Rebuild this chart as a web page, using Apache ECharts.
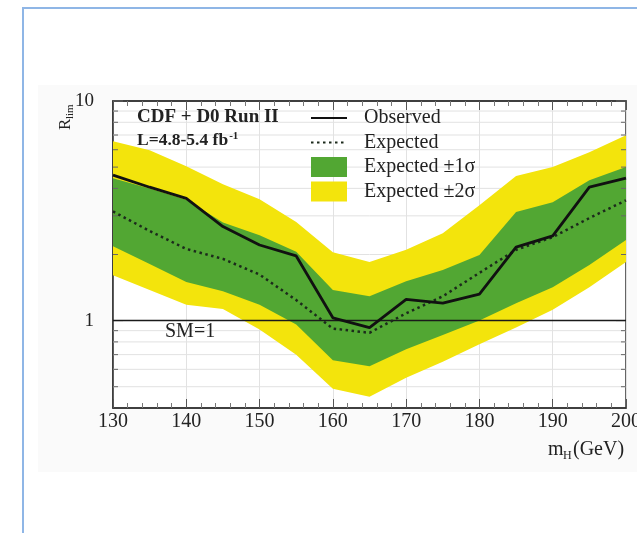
<!DOCTYPE html>
<html>
<head>
<meta charset="utf-8">
<script src="https://cdn.jsdelivr.net/npm/echarts@6/dist/echarts.min.js"></script>
<style>
  html, body { margin: 0; padding: 0; background: #fff; }
  #chart { width: 637px; height: 533px; }
</style>
</head>
<body>
<div id="chart"></div>
<script>
// Higgs mass points (GeV)
const mass = [130, 135, 140, 145, 150, 155, 160, 165, 170, 175, 180, 185, 190, 195, 200];
// Observed 95% CL limit ratio R_lim
const observed = [4.6, 4.05, 3.6, 2.68, 2.21, 1.97, 1.03, 0.93, 1.25, 1.2, 1.32, 2.16, 2.43, 4.05, 4.45];
// Median expected limit
const expected = [3.14, 2.56, 2.12, 1.91, 1.62, 1.24, 0.92, 0.88, 1.08, 1.29, 1.65, 2.10, 2.40, 2.93, 3.53];
// ±1 sigma band
const sigma1Low = [2.18, 1.81, 1.50, 1.36, 1.18, 0.96, 0.66, 0.62, 0.74, 0.86, 1.0, 1.2, 1.42, 1.79, 2.33];
const sigma1High = [4.45, 4.0, 3.55, 2.8, 2.45, 2.06, 1.38, 1.29, 1.51, 1.70, 1.99, 3.12, 3.46, 4.36, 5.0];
// ±2 sigma band
const sigma2Low = [1.61, 1.38, 1.18, 1.13, 0.91, 0.70, 0.49, 0.45, 0.55, 0.65, 0.78, 0.93, 1.12, 1.42, 1.85];
const sigma2High = [6.56, 5.97, 5.05, 4.18, 3.57, 2.81, 2.05, 1.85, 2.10, 2.50, 3.35, 4.55, 5.0, 5.85, 6.98];
// Axis settings and tick values
const xMin = 130, xMax = 200, xStep = 10;
const yMin = 0.4, yMax = 10;
const yLabels = [1, 10];
const yMinorTicks = [0.5, 0.6, 0.7, 0.8, 0.9, 2, 3, 4, 5, 6, 7, 8, 9];

const SERIF = "'Liberation Serif', 'DejaVu Serif', serif";
const INK = '#222';

function pairs(ys) { return mass.map((m, i) => [m, ys[i]]); }

// Filled band between two curves, drawn as one polygon
function bandRenderer(lo, hi) {
  return function (params, api) {
    if (params.dataIndex !== 0) return null;
    const pts = [];
    for (let i = 0; i < mass.length; i++) pts.push(api.coord([mass[i], hi[i]]));
    for (let i = mass.length - 1; i >= 0; i--) pts.push(api.coord([mass[i], lo[i]]));
    return {
      type: 'polygon',
      shape: { points: pts },
      style: { fill: api.visual('color'), stroke: null }
    };
  };
}

// Full-width horizontal rule at a given y value
function hRule(stroke, width) {
  return function (params, api) {
    const cs = params.coordSys;
    const p = api.coord([xMin, api.value(1)]);
    return { type: 'line', shape: { x1: cs.x, y1: p[1], x2: cs.x + cs.width, y2: p[1] },
      style: { stroke: stroke, lineWidth: width } };
  };
}

const chart = echarts.init(document.getElementById('chart'), null, { renderer: 'canvas' });

const option = {
  animation: false,
  backgroundColor: '#fff',
  grid: {
    left: 113, right: 11, top: 101, bottom: 125,
    outerBoundsMode: 'none', containLabel: false,
    show: true, backgroundColor: '#fff', borderColor: '#333', borderWidth: 1.5
  },
  legend: {
    orient: 'vertical', left: 310, top: 108, padding: 0,
    itemWidth: 36, itemHeight: 20, itemGap: 4.5,
    selectedMode: false,
    textStyle: { fontFamily: SERIF, fontSize: 20, color: INK, padding: [0, 0, 0, 12] },
    data: [
      { name: 'Observed', itemStyle: { opacity: 0 } },
      { name: 'Expected', itemStyle: { opacity: 0 } },
      { name: 'Expected ±1σ', icon: 'rect' },
      { name: 'Expected ±2σ', icon: 'rect' }
    ]
  },
  xAxis: [{
    type: 'value', min: xMin, max: xMax, interval: xStep, position: 'bottom',
    axisLine: { show: true, lineStyle: { color: '#333', width: 1.5 } },
    axisTick: { show: true, inside: true, length: 9, lineStyle: { color: '#555' } },
    minorTick: { show: true, splitNumber: 5, length: 5, lineStyle: { color: '#777' } },
    axisLabel: { fontFamily: SERIF, fontSize: 20, color: INK, margin: 4,
      formatter: v => String(v), showMinLabel: true, showMaxLabel: true,
      alignMinLabel: 'center', alignMaxLabel: 'center' },
    splitLine: { show: true, lineStyle: { color: '#e2e2e2', width: 1 } }
  }, {
    type: 'value', min: xMin, max: xMax, interval: xStep, position: 'top',
    axisLine: { show: true, lineStyle: { color: '#333', width: 1.5 } },
    axisTick: { show: true, inside: true, length: 9, lineStyle: { color: '#555' } },
    minorTick: { show: true, splitNumber: 5, length: 5, lineStyle: { color: '#777' } },
    axisLabel: { show: false },
    splitLine: { show: false }
  }],
  yAxis: {
    type: 'log', logBase: 10, min: yMin, max: yMax,
    axisLine: { show: true, lineStyle: { color: '#333', width: 1.5 } },
    axisTick: { show: false },
    splitLine: { show: false },
    axisLabel: {
      fontFamily: SERIF, fontSize: 19, color: INK, margin: 19,
      formatter: v => {
        const hit = yLabels.find(t => Math.abs(v - t) < 1e-6 * t);
        return hit ? String(hit) : '';
      }
    }
  },
  series: [
    {
      // light horizontal grid at the log sub-decades
      name: 'hgrid', type: 'custom', z: 1, silent: true,
      data: yMinorTicks.map(v => [xMin, v]),
      encode: { x: 0, y: 1 },
      renderItem: hRule('#e2e2e2', 1)
    },
    {
      name: 'Expected ±2σ', type: 'custom', z: 2,
      itemStyle: { color: '#f3e40c' },
      data: pairs(sigma2High).map((p, i) => [p[0], sigma2Low[i], p[1]]),
      encode: { x: 0, y: [1, 2] },
      renderItem: bandRenderer(sigma2Low, sigma2High)
    },
    {
      name: 'Expected ±1σ', type: 'custom', z: 3,
      itemStyle: { color: '#52a733' },
      data: pairs(sigma1High).map((p, i) => [p[0], sigma1Low[i], p[1]]),
      encode: { x: 0, y: [1, 2] },
      renderItem: bandRenderer(sigma1Low, sigma1High)
    },
    {
      // log minor/major ticks on left and right frame edges
      name: 'yticks', type: 'custom', z: 4, silent: true,
      data: yMinorTicks.map(v => [xMin, v, 5]).concat(yLabels.map(v => [xMin, v, 10])),
      encode: { x: 0, y: 1 },
      renderItem: (params, api) => {
        const cs = params.coordSys;
        const p = api.coord([xMin, api.value(1)]);
        const len = api.value(2);
        return { type: 'group', children: [
          { type: 'line', shape: { x1: cs.x, y1: p[1], x2: cs.x + len, y2: p[1] }, style: { stroke: '#666', lineWidth: 1 } },
          { type: 'line', shape: { x1: cs.x + cs.width - len, y1: p[1], x2: cs.x + cs.width, y2: p[1] }, style: { stroke: '#666', lineWidth: 1 } }
        ] };
      }
    },
    {
      // SM = 1 reference line
      name: 'sm', type: 'custom', z: 5, silent: true,
      data: [[xMin, 1]],
      encode: { x: 0, y: 1 },
      renderItem: hRule('#1a1a1a', 1.5)
    },
    {
      name: 'Expected', type: 'line', z: 6, symbol: 'none',
      itemStyle: { color: '#1c2a1c' },
      data: pairs(expected),
      lineStyle: { color: '#1c2a1c', width: 2.5, type: [2.5, 3.5] }
    },
    {
      name: 'Observed', type: 'line', z: 7, symbol: 'none',
      itemStyle: { color: '#111' },
      data: pairs(observed),
      lineStyle: { color: '#111', width: 2.8 }
    }
  ],
  graphic: {
    elements: [
      { type: 'rect', z: -20, silent: true,
        shape: { x: 38, y: 85, width: 620, height: 387 },
        style: { fill: '#fafafa' } },
      { type: 'rect', z: 100, silent: true,
        shape: { x: 23, y: 8, width: 700, height: 600 },
        style: { fill: null, stroke: '#8fb6e6', lineWidth: 2 } },
      { type: 'text', z: 100, left: 137, top: 108, silent: true,
        style: { text: 'CDF + D0 Run II', font: 'bold 19px ' + SERIF, fill: INK } },
      { type: 'text', z: 100, left: 137, top: 131, silent: true,
        style: {
          text: '{a|L=4.8-5.4 fb}{b|-1}',
          rich: {
            a: { fontFamily: SERIF, fontWeight: 'bold', fontSize: 17.5, fill: INK, color: INK },
            b: { fontFamily: SERIF, fontWeight: 'bold', fontSize: 11, fill: INK, color: INK, verticalAlign: 'top', padding: [0, 0, 0, 1] }
          }
        } },
      { type: 'text', z: 100, left: 165, top: 322, silent: true,
        style: { text: 'SM=1', font: '20px ' + SERIF, fill: INK } },
      { type: 'group', z: 100, left: 548, top: 440, silent: true, children: [
        { type: 'text', x: 0, y: 0, style: { text: 'm', font: '20px ' + SERIF, fill: INK } },
        { type: 'text', x: 15, y: 10, style: { text: 'H', font: '12px ' + SERIF, fill: INK } },
        { type: 'text', x: 25, y: 0, style: { text: '(GeV)', font: '20px ' + SERIF, fill: INK } }
      ] },
      { type: 'group', z: 100, x: 57, y: 130, rotation: Math.PI / 2, silent: true, children: [
        { type: 'text', x: 0, y: 0, style: { text: 'R', font: '17px ' + SERIF, fill: INK } },
        { type: 'text', x: 11, y: 8, style: { text: 'lim', font: '11px ' + SERIF, fill: INK } }
      ] }
    ]
  }
};

chart.setOption(option);
</script>
</body>
</html>
